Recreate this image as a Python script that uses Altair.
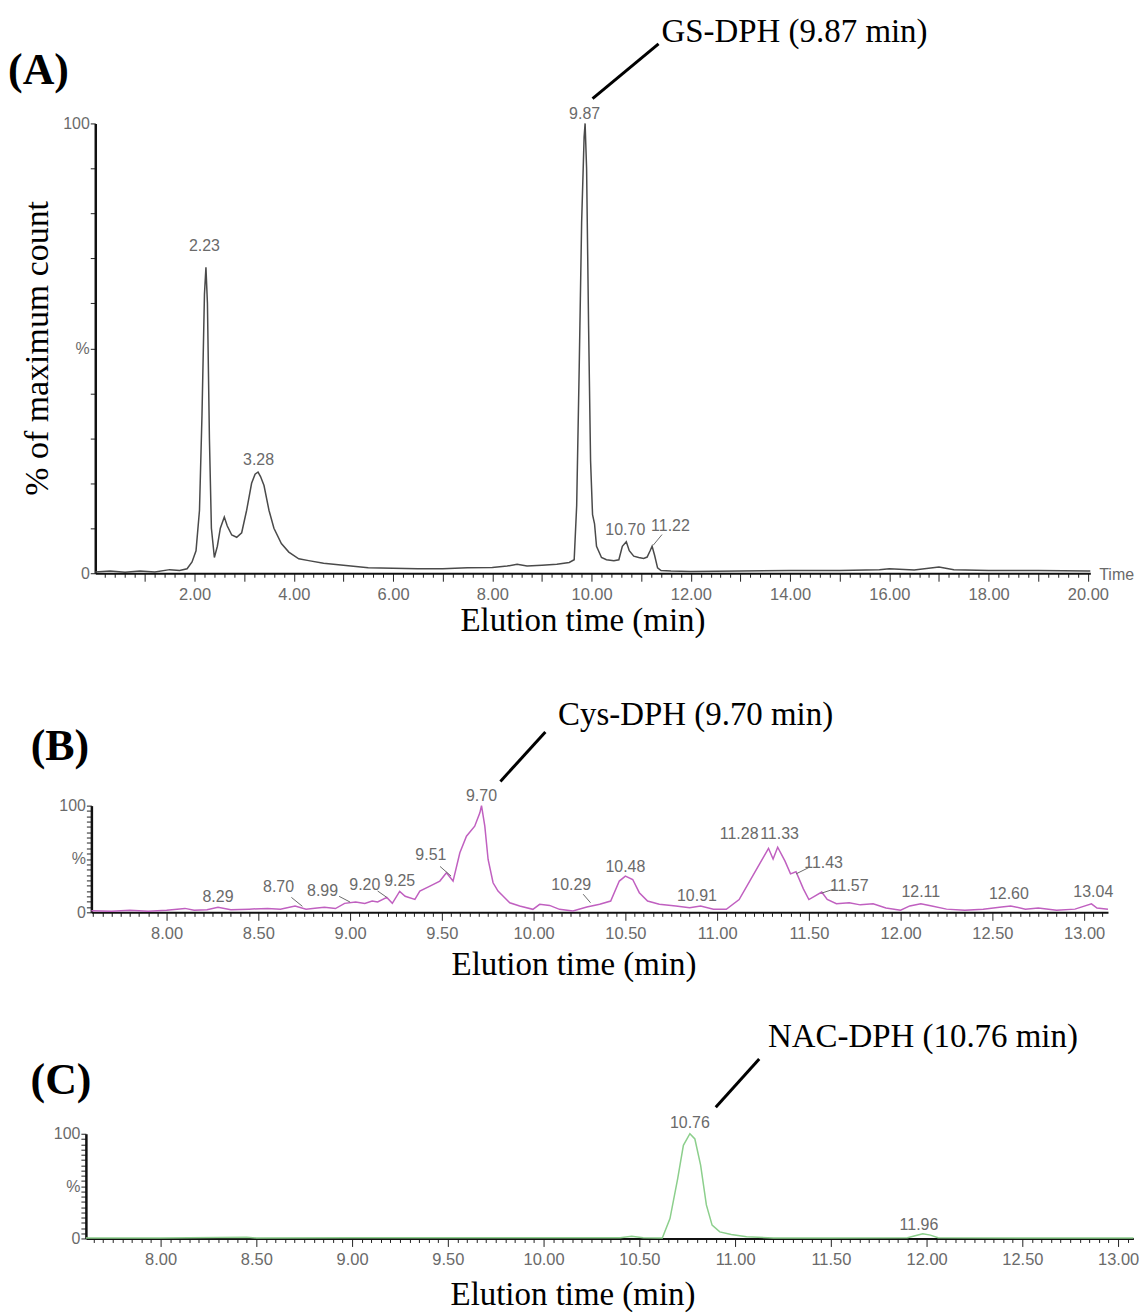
import altair as alt
import pandas as pd

# ---------------- data ----------------
# (A) GS-DPH chromatogram: elution time (min) vs % of maximum count
A_TIME = [0.0, 0.3, 0.6, 0.9, 1.2, 1.5, 1.7, 1.85, 1.95, 2.03, 2.1, 2.15, 2.2, 2.23, 2.26, 2.3,
          2.34, 2.4, 2.46, 2.52, 2.6, 2.66, 2.75, 2.85, 2.95, 3.05, 3.15, 3.22, 3.28, 3.33, 3.4,
          3.5, 3.6, 3.75, 3.9, 4.1, 4.3, 4.6, 5.0, 5.5, 6.0, 6.5, 7.0, 7.5, 8.0, 8.3, 8.5, 8.7,
          9.0, 9.3, 9.55, 9.65, 9.7, 9.75, 9.8, 9.85, 9.87, 9.9, 9.94, 9.98, 10.02, 10.06, 10.1,
          10.2, 10.3, 10.45, 10.55, 10.62, 10.7, 10.76, 10.85, 10.95, 11.05, 11.12, 11.18, 11.22,
          11.27, 11.33, 11.4, 11.6, 12.0, 13.0, 14.0, 15.0, 15.8, 16.0, 16.5, 17.0, 17.3, 18.0,
          19.0, 20.0, 20.05]
A_SIGNAL = [0.3, 0.5, 0.2, 0.5, 0.3, 0.8, 0.6, 1.0, 2.5, 5, 14, 35, 62, 68, 60, 30,
            10, 3.5, 6, 10, 12.5, 10.5, 8.5, 8, 9, 14, 20, 22, 22.5, 21.5, 19.5,
            14, 10, 6.6, 4.7, 3.2, 2.8, 2.2, 1.8, 1.2, 1.1, 1.0, 1.0, 1.2, 1.3, 1.6, 2.0, 1.6,
            1.8, 2.0, 2.4, 3, 15, 45, 78, 97, 100, 90, 55, 25, 13, 11, 6,
            3.5, 3, 2.8, 3, 6, 7, 5, 3.8, 3.5, 3.3, 3.6, 5, 6,
            4, 1.2, 0.6, 0.5, 0.4, 0.5, 0.6, 0.6, 0.8, 1.0, 0.7, 1.4, 0.8, 0.6,
            0.6, 0.5, 0.5]
A_PEAK_TEXT = ["2.23", "3.28", "9.87", "10.70", "11.22"]
A_PEAK_T = [2.20, 3.29, 9.86, 10.68, 11.59]
A_PEAK_V = [72.7, 25.1, 102.0, 9.5, 10.4]

# (B) Cys-DPH chromatogram
B_TIME = [7.59, 7.7, 7.8, 7.9, 8.0, 8.1, 8.15, 8.22, 8.28, 8.35, 8.45, 8.55, 8.62, 8.70, 8.76,
          8.82, 8.86, 8.92, 8.97, 9.03, 9.08, 9.12, 9.15, 9.20, 9.23, 9.27, 9.30, 9.353, 9.38,
          9.435, 9.489, 9.525, 9.561, 9.598, 9.634, 9.679, 9.707, 9.716, 9.734, 9.752, 9.779,
          9.806, 9.833, 9.870, 9.924, 9.996, 10.033, 10.087, 10.141, 10.214, 10.29, 10.36, 10.42,
          10.467, 10.50, 10.54, 10.576, 10.621, 10.685, 10.775, 10.85, 10.91, 10.98, 11.05, 11.12,
          11.18, 11.23, 11.28, 11.305, 11.33, 11.37, 11.40, 11.43, 11.47, 11.50, 11.53, 11.57,
          11.60, 11.65, 11.72, 11.78, 11.85, 11.92, 12.0, 12.05, 12.11, 12.17, 12.25, 12.35,
          12.45, 12.55, 12.60, 12.68, 12.75, 12.85, 12.95, 13.04, 13.07, 13.13]
B_SIGNAL = [1.5, 1.0, 2.0, 1.0, 2.0, 3.7, 2.0, 2.5, 4.7, 2.5, 3.0, 3.7, 3.0, 6.0, 3.0,
            4.0, 4.7, 3.5, 8.4, 9.7, 8.4, 10.5, 9.7, 14.0, 8.4, 19.6, 15.0, 12.1, 19.9,
            24.6, 29.3, 37.1, 29.3, 55.8, 71.3, 80.7, 93.2, 100, 80.7, 49.5, 27.7,
            19.9, 15.3, 9.0, 5.9, 2.8, 7.5, 6.5, 2.8, 1.2, 5.0, 7.5, 10.6,
            29.3, 33.9, 30.8, 18.4, 10.6, 7.5, 5.9, 4.4, 6.0, 3.0, 2.8, 12,
            30, 45, 60, 50, 61, 48, 36, 38, 22, 12, 15, 19,
            12, 8, 9, 7, 8, 4, 2, 6, 8, 6, 3, 2,
            3, 5, 6, 3, 4, 2, 3, 8, 4, 3]
B_PEAK_TEXT = ["8.29", "8.70", "8.99", "9.20", "9.25", "9.51", "9.70", "10.29", "10.48",
               "10.91", "11.28", "11.33", "11.43", "11.57", "12.11", "12.60", "13.04"]
B_PEAK_T = [8.28, 8.61, 8.85, 9.08, 9.27, 9.44, 9.716, 10.205, 10.50,
            10.89, 11.12, 11.34, 11.58, 11.72, 12.11, 12.59, 13.05]
B_PEAK_V = [14, 24, 20, 26, 29, 54, 108.7, 26, 42,
            15, 73, 73, 46, 25, 18.7, 16.8, 18.7]
B_LEAD_T = [8.68, 8.94, 9.15, 9.49, 10.27, 11.43, 11.57]
B_LEAD_V = [14, 15, 20, 43, 17, 36, 18]
B_LEAD_T2 = [8.74, 9.00, 9.20, 9.55, 10.31, 11.50, 11.64]
B_LEAD_V2 = [5.6, 9.6, 14, 34, 9, 42, 22]

# (C) NAC-DPH chromatogram
C_TIME = [7.61, 8.0, 8.45, 8.5, 9.0, 9.5, 10.0, 10.40, 10.46, 10.52, 10.62, 10.66, 10.70,
          10.73, 10.764, 10.79, 10.82, 10.85, 10.88, 10.92, 10.98, 11.06, 11.2, 11.5, 11.9,
          11.94, 11.98, 12.02, 12.06, 12.5, 13.08]
C_SIGNAL = [0.5, 0.5, 1.2, 0.5, 0.8, 0.8, 0.6, 0.8, 2.0, 0.8, 0.5, 19, 57,
            89, 100, 95, 70, 32, 12.7, 6.3, 3.8, 1.6, 0.5, 0.5, 0.6,
            2.5, 4.5, 3.2, 0.8, 0.5, 0.5]
C_PEAK_TEXT = ["10.76", "11.96"]
C_PEAK_T = [10.764, 11.96]
C_PEAK_V = [110.5, 12.7]

PANEL_LETTERS = ["(A)", "(B)", "(C)"]
COMPOUNDS = ["GS-DPH (9.87 min)", "Cys-DPH (9.70 min)", "NAC-DPH (10.76 min)"]

SERIF = "Liberation Serif"
SANS = "Liberation Sans"
GRAY = "#6a6a6a"


def tick_values(start, stop, step):
    n = int(round((stop - start) / step))
    return [round(start + i * step, 3) for i in range(n + 1)]


def panel(line_df, color, x_dom, x_rng, y_rng, height, xt, major_test, label_test, y_vals,
          x_title_pos, peaks, leaders, letter, compound, compound_leader, extra=None,
          y_title=None):
    x_off = -(height - y_rng[0])
    y_off = -x_rng[0]
    x_axis = alt.Axis(values=xt, labelExpr=f"{label_test} ? format(datum.value, '.2f') : ''",
                      tickSize={"condition": {"test": major_test, "value": 8}, "value": 4},
                      tickColor="#222222", tickWidth=1, domainColor="#111111", domainWidth=2,
                      labelFont=SANS, labelFontSize=16.5, labelColor=GRAY, labelPadding=5,
                      labelOverlap=False, labelFlush=False, grid=False, offset=x_off,
                      title="Elution time (min)", titleFont=SERIF, titleFontSize=33,
                      titleFontWeight="normal", titleColor="black",
                      titleX=x_title_pos[0], titleY=x_title_pos[1], titleBaseline="middle",
                      titleAlign="center")
    y_kw = dict(values=y_vals,
                labelExpr="datum.value == 100 ? '100' : (datum.value == 50 ? '%' : (datum.value == 0 ? '0' : ''))",
                tickSize=5, tickColor="#222222", tickWidth=1, domainColor="#111111",
                domainWidth=2.5, labelFont=SANS, labelFontSize=16, labelColor=GRAY,
                labelPadding=1, labelOverlap=False, grid=False, offset=y_off)
    if y_title:
        y_kw.update(title=y_title[0], titleFont=SERIF, titleFontSize=34,
                    titleFontWeight="normal", titleColor="black", titleAngle=270,
                    titleX=y_title[1], titleY=y_title[2], titleBaseline="middle",
                    titleAlign="center")
    else:
        y_kw.update(title="")
    y_axis = alt.Axis(**y_kw)
    xs = alt.Scale(domain=x_dom, range=x_rng, nice=False, zero=False)
    ys = alt.Scale(domain=[0, 100], range=y_rng, nice=False, zero=False)
    X = alt.X("t:Q", scale=xs, axis=x_axis)
    Y = alt.Y("v:Q", scale=ys, axis=y_axis)

    line = alt.Chart(line_df).mark_line(color=color, strokeWidth=1.5).encode(x=X, y=Y)
    layers = [line]
    layers.append(alt.Chart(peaks).mark_text(font=SANS, fontSize=16, color=GRAY,
                                             baseline="middle", align="center")
                  .encode(x=X, y=Y, text="label:N"))
    if leaders is not None:
        layers.append(alt.Chart(leaders).mark_rule(color=GRAY, strokeWidth=1)
                      .encode(x=X, y=Y, x2="t2:Q", y2="v2:Q"))
    layers.append(alt.Chart(letter).mark_text(font=SERIF, fontSize=44, fontWeight="bold",
                                              color="black", align="left", baseline="middle")
                  .encode(x=X, y=Y, text="label:N"))
    layers.append(alt.Chart(compound).mark_text(font=SERIF, fontSize=33, color="black",
                                                align="left", baseline="middle")
                  .encode(x=X, y=Y, text="label:N"))
    layers.append(alt.Chart(compound_leader).mark_rule(color="black", strokeWidth=3)
                  .encode(x=X, y=Y, x2="t2:Q", y2="v2:Q"))
    if extra is not None:
        layers.append(alt.Chart(extra).mark_text(font=SANS, fontSize=16, color=GRAY,
                                                 align="center", baseline="middle")
                      .encode(x=X, y=Y, text="label:N"))
    return alt.layer(*layers).properties(width=1131, height=height)


# ---------------- panel A ----------------
dfA = pd.DataFrame({"t": A_TIME, "v": A_SIGNAL})
peaksA = pd.DataFrame({"t": A_PEAK_T, "v": A_PEAK_V, "label": A_PEAK_TEXT})
leadA = pd.DataFrame({"t": [11.24], "v": [6.2], "t2": [11.42], "v2": [8.6]})
letterA = pd.DataFrame({"t": [-1.758], "v": [111.75], "label": [PANEL_LETTERS[0]]})
compA = pd.DataFrame({"t": [11.41], "v": [120.4], "label": [COMPOUNDS[0]]})
compLeadA = pd.DataFrame({"t": [10.02], "v": [105.5], "t2": [11.35], "v2": [117.7]})
timeA = pd.DataFrame({"t": [20.58], "v": [-0.3], "label": ["Time"]})

pA = panel(dfA, "#4a4a4a", [0, 20.05], [87.5, 1085.2], [565, 114], 652,
           tick_values(0.2, 20.0, 0.2),
           "abs(datum.value - round(datum.value)) < 0.001",
           "abs(datum.value / 2 - round(datum.value / 2)) < 0.001",
           tick_values(0, 100, 10), (576, 47), peaksA, leadA, letterA, compA, compLeadA,
           extra=timeA, y_title=("% of maximum count", -57.5, 339))

# ---------------- panel B ----------------
dfB = pd.DataFrame({"t": B_TIME, "v": B_SIGNAL})
peaksB = pd.DataFrame({"t": B_PEAK_T, "v": B_PEAK_V, "label": B_PEAK_TEXT})
leadB = pd.DataFrame({"t": B_LEAD_T, "v": B_LEAD_V, "t2": B_LEAD_T2, "v2": B_LEAD_V2})
letterB = pd.DataFrame({"t": [7.259], "v": [155], "label": [PANEL_LETTERS[1]]})
compB = pd.DataFrame({"t": [10.133], "v": [185], "label": [COMPOUNDS[1]]})
compLeadB = pd.DataFrame({"t": [9.819], "v": [122.7], "t2": [10.064], "v2": [168.9]})

pB = panel(dfB, "#c060c0", [7.59, 13.13], [83.6, 1102.9], [253, 146], 330,
           tick_values(7.60, 13.10, 0.05),
           "abs(datum.value * 2 - round(datum.value * 2)) < 0.001",
           "abs(datum.value * 2 - round(datum.value * 2)) < 0.001",
           tick_values(0, 100, 5), (567, 52), peaksB, leadB, letterB, compB, compLeadB)

# ---------------- panel C ----------------
dfC = pd.DataFrame({"t": C_TIME, "v": C_SIGNAL})
peaksC = pd.DataFrame({"t": C_PEAK_T, "v": C_PEAK_V, "label": C_PEAK_TEXT})
letterC = pd.DataFrame({"t": [7.321], "v": [150.5], "label": [PANEL_LETTERS[2]]})
compC = pd.DataFrame({"t": [11.172], "v": [192.4], "label": [COMPOUNDS[2]]})
compLeadC = pd.DataFrame({"t": [10.899], "v": [125.4], "t2": [11.126], "v2": [171.4]})

pC = panel(dfC, "#8ccf8c", [7.61, 13.08], [78.1, 1128.4], [250, 145], 310,
           tick_values(7.65, 13.05, 0.05),
           "abs(datum.value * 2 - round(datum.value * 2)) < 0.001",
           "abs(datum.value * 2 - round(datum.value * 2)) < 0.001",
           tick_values(0, 100, 5), (566, 56), peaksC, None, letterC, compC, compLeadC)

chart = (alt.vconcat(pA, pB, pC, spacing=0)
         .properties(padding=0, background="white")
         .configure_view(strokeWidth=0))

chart.save("out.html", embed_options={"renderer": "svg", "actions": False})
